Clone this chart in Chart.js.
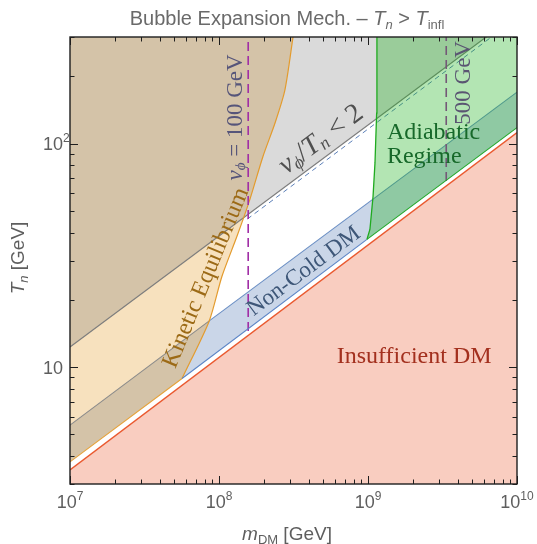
<!DOCTYPE html>
<html>
<head>
<meta charset="utf-8">
<title>Bubble Expansion Mech.</title>
<script src="https://cdn.jsdelivr.net/npm/chart.js@4.4.1/dist/chart.umd.min.js"></script>
<style>
  html, body { margin: 0; padding: 0; background: #fff; }
  #box { position: relative; width: 537px; height: 544px; }
</style>
</head>
<body>
<div id="box"><canvas id="plot"></canvas></div>
<script>
// axis ranges, GeV
const mRange = [1e7, 1e10];
const tRange = [3, 300];

// region boundaries, [m_DM, T_n]
const insufficientDM = [[1e7, 3.47], [1e10, 112]];
const lowerEdge = [[1e7, 3.77], [5.65e7, 8.9], [9.84e8, 37.3], [1e10, 118]];
const nonColdTop = [[1e7, 5.5], [8.6e7, 16.1], [1e10, 170]];
const vOverT2 = [[1e7, 12.3], [1e10, 380]];
const vOverT2Dashed = [[1.55e8, 46], [1e10, 365]];
const kineticEdge = [[5.65e7, 8.9], [8.6e7, 16.1], [1.047e8, 25.5], [1.32e8, 38.5], [1.61e8, 56.2],
  [1.97e8, 87.4], [2.38e8, 124], [2.77e8, 174], [3.14e8, 300]];
const adiabaticEdge = [[9.84e8, 37.3], [1.03e9, 41.3], [1.081e9, 58], [1.114e9, 82], [1.143e9, 137], [1.148e9, 300]];
const vPhiMass = [1.57e8, 3.35e9];
const vPhiFloor = [14.5, 68];

// ticks
const xDecades = [1e7, 1e8, 1e9, 1e10];
const xExponents = ['7', '8', '9', '10'];
const yDecades = [10, 100];
const yLabels = [['10', ''], ['10', '2']];
const minorSteps = [2, 3, 4, 5, 6, 7, 8, 9];

const SANS = '"Liberation Sans", Arial, sans-serif';
const SERIF = '"Liberation Serif", "Times New Roman", serif';

const pts = arr => arr.map(([x, y]) => ({x, y}));

function area(points, color, fill) {
  return {data: pts(points), fill: fill || 'shape', backgroundColor: color, borderWidth: 0, pointRadius: 0};
}
function line(points, color, width, dash) {
  return {data: pts(points), fill: false, borderColor: color, borderWidth: width, borderDash: dash || [], pointRadius: 0};
}

const segColor = colors => ({borderColor: c => colors[c.p0DataIndex]});
const shade = 'rgba(94,94,94,0.23)';

// bottom to top
const layers = [
  area([...insufficientDM, [mRange[1], tRange[0]], [mRange[0], tRange[0]]], '#f9cdc0'),
  area([lowerEdge[0], ...kineticEdge, [mRange[0], tRange[1]]], '#f7e1be'),
  area(vOverT2, shade, 'end'),
  // non-cold band: inside kinetic region it looks like the grey shade
  area([lowerEdge[0], kineticEdge[0], kineticEdge[1], nonColdTop[0]], shade),
  area([kineticEdge[0], lowerEdge[2], lowerEdge[3], nonColdTop[2], nonColdTop[1]], 'rgba(43,91,163,0.25)'),
  line(vOverT2, '#7d7d7d', 1.2),
  Object.assign(line(nonColdTop, '#6b8fc4', 1.1), {segment: segColor(['#8a8a8a', '#6b8fc4'])}),
  line(vOverT2Dashed, '#5b7fb8', 1, [5, 4]),
  Object.assign(line(kineticEdge, '#e39b2d', 1.2), {tension: 0.25}),
  line([[vPhiMass[0], vPhiFloor[0]], [vPhiMass[0], tRange[1]]], '#a12ea6', 1.6, [9, 5]),
  line([[vPhiMass[1], vPhiFloor[1]], [vPhiMass[1], tRange[1]]], '#a12ea6', 1.6, [9, 5]),
  area([...adiabaticEdge, [mRange[1], tRange[1]], lowerEdge[3]], 'rgba(25,176,25,0.33)'),
  line(adiabaticEdge, '#1faa1f', 1.3),
  Object.assign(line(lowerEdge, '#5a84c6', 1.1), {segment: segColor(['#e5a23a', '#5a84c6', '#22a82a'])}),
  line(insufficientDM, '#ea5a30', 1.3)
];

// draw a row of text pieces with mixed fonts
function runs(ctx, parts, x, y, angle, align, color) {
  ctx.save();
  ctx.translate(x, y);
  ctx.rotate(angle || 0);
  let w = 0;
  parts.forEach(p => { ctx.font = p.f; p.w = ctx.measureText(p.t).width; w += p.w; });
  let cx = align === 'left' ? 0 : align === 'right' ? -w : -w / 2;
  parts.forEach(p => {
    ctx.font = p.f;
    ctx.fillStyle = p.c || color;
    ctx.fillText(p.t, cx, p.dy || 0);
    cx += p.w;
  });
  ctx.restore();
}

const decor = {
  id: 'decor',
  afterDraw(chart) {
    const {ctx, chartArea: a, scales: {x, y}} = chart;
    const px = v => x.getPixelForValue(v), py = v => y.getPixelForValue(v);
    const lineAngle = Math.atan2(py(vOverT2[1][1]) - py(vOverT2[0][1]), px(vOverT2[1][0]) - px(vOverT2[0][0]));
    const serif = s => s + 'px ' + SERIF, iserif = s => 'italic ' + s + 'px ' + SERIF;
    const sans = s => s + 'px ' + SANS, isans = s => 'italic ' + s + 'px ' + SANS;

    // region labels
    ctx.textBaseline = 'middle';
    runs(ctx, [{t: 'Insufficient DM', f: serif(24)}], px(2.04e9), py(11.1), 0, 'center', '#a3301e');
    runs(ctx, [{t: 'Kinetic Equilibrium', f: serif(24)}], px(8.2e7), py(25.1), -67.6 * Math.PI / 180, 'center', '#9c6a16');
    runs(ctx, [{t: 'Non-Cold DM', f: serif(23)}], px(3.72e8), py(26.8), lineAngle, 'center', '#3e5778');
    runs(ctx, [
      {t: 'v', f: iserif(28)}, {t: 'ϕ', f: iserif(18), dy: 6}, {t: '/', f: serif(28)},
      {t: 'T', f: iserif(28)}, {t: 'n', f: iserif(18), dy: 6}, {t: ' < 2', f: serif(28)}
    ], px(4.69e8) + 2, py(100) - 4, lineAngle, 'center', '#4f4f4f');
    runs(ctx, [
      {t: 'v', f: iserif(23)}, {t: 'ϕ', f: iserif(15), dy: 5}, {t: ' = 100 GeV', f: serif(23)}
    ], px(1.30e8), py(131), -Math.PI / 2, 'center', '#56557a');
    runs(ctx, [{t: '500 GeV', f: serif(23)}], px(4.4e9), py(187), -Math.PI / 2, 'center', '#5a5572');
    ctx.textBaseline = 'alphabetic';
    runs(ctx, [{t: 'Adiabatic', f: serif(24)}], px(1.34e9), py(105.3), 0, 'left', '#17692a');
    runs(ctx, [{t: 'Regime', f: serif(24)}], px(1.34e9), py(105.3) + 24, 0, 'left', '#17692a');

    // frame
    ctx.save();
    ctx.strokeStyle = '#1e1e1e';
    ctx.lineWidth = 1.4;
    ctx.strokeRect(a.left, a.top, a.right - a.left, a.bottom - a.top);

    // inward ticks on all four sides
    ctx.lineWidth = 1;
    const tickX = (v, len) => {
      const p = Math.round(px(v)) + 0.5;
      ctx.moveTo(p, a.bottom); ctx.lineTo(p, a.bottom - len);
      ctx.moveTo(p, a.top); ctx.lineTo(p, a.top + len);
    };
    const tickY = (v, len) => {
      const p = Math.round(py(v)) + 0.5;
      ctx.moveTo(a.left, p); ctx.lineTo(a.left + len, p);
      ctx.moveTo(a.right, p); ctx.lineTo(a.right - len, p);
    };
    ctx.beginPath();
    xDecades.forEach(d => {
      tickX(d, 8);
      minorSteps.forEach(k => { if (d * k < mRange[1]) tickX(d * k, 4.5); });
    });
    [1, 10, 100].forEach(d => minorSteps.forEach(k => {
      const v = d * k;
      if (v >= tRange[0] && v <= tRange[1]) tickY(v, 4.5);
    }));
    yDecades.forEach(d => tickY(d, 8));
    ctx.stroke();
    ctx.restore();

    // tick labels
    const grey = '#5e5e5e';
    xDecades.forEach((d, i) => {
      runs(ctx, [{t: '10', f: sans(18)}, {t: xExponents[i], f: sans(12), dy: -8}], px(d), 508, 0, 'center', grey);
    });
    yDecades.forEach((d, i) => {
      const yy = py(d) + 6.5;
      runs(ctx, [{t: yLabels[i][0], f: sans(18)}], 63, yy, 0, 'right', grey);
      if (yLabels[i][1]) runs(ctx, [{t: yLabels[i][1], f: sans(12), dy: -8}], 63, yy, 0, 'left', grey);
    });

    // titles
    runs(ctx, [
      {t: 'Bubble Expansion Mech. \u2013 ', f: sans(20)}, {t: 'T', f: isans(20)}, {t: 'n', f: isans(13), dy: 4},
      {t: ' > ', f: sans(20)}, {t: 'T', f: isans(20)}, {t: 'infl', f: sans(13), dy: 4}
    ], 287, 25, 0, 'center', '#6a6a6a');
    runs(ctx, [
      {t: 'm', f: isans(19)}, {t: 'DM', f: sans(13), dy: 4}, {t: ' [GeV]', f: sans(19)}
    ], 287, 540, 0, 'center', grey);
    runs(ctx, [
      {t: 'T', f: isans(19)}, {t: 'n', f: isans(13), dy: 4}, {t: ' [GeV]', f: sans(19)}
    ], 24, 258, -Math.PI / 2, 'center', grey);
  }
};

new Chart(document.getElementById('plot'), {
  type: 'line',
  data: {datasets: layers.slice().reverse()},
  options: {
    responsive: true,
    maintainAspectRatio: false,
    animation: false,
    events: [],
    layout: {padding: {left: 70, right: 20, top: 37, bottom: 60}},
    elements: {line: {tension: 0}},
    scales: {
      x: {type: 'logarithmic', min: mRange[0], max: mRange[1], display: false},
      y: {type: 'logarithmic', min: tRange[0], max: tRange[1], display: false}
    },
    plugins: {legend: {display: false}, tooltip: {enabled: false}}
  },
  plugins: [decor]
});
</script>
</body>
</html>
